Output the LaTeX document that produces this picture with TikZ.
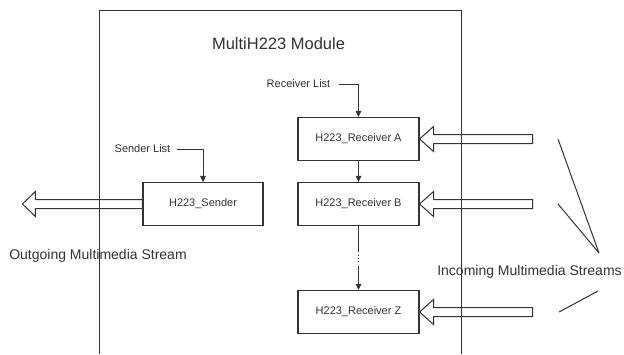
\documentclass[tikz,border=0pt]{standalone}
\usepackage{fontspec}
\setmainfont{Liberation Sans}
\usetikzlibrary{arrows.meta}
\definecolor{ink}{HTML}{333333}
\begin{document}
\begin{tikzpicture}[x=1pt,y=-1pt,
  every node/.style={text=ink},
  blk/.style={draw=ink,line width=1.1pt,minimum width=121pt,minimum height=43pt,inner sep=0pt,font=\fontsize{11}{13}\selectfont},
  small/.style={font=\fontsize{11}{13}\selectfont,inner sep=0pt},
  big/.style={font=\fontsize{14}{16}\selectfont,inner sep=0pt},
  conn/.style={draw=ink,line width=1pt},
  tipped/.style={conn,-{Triangle[length=6pt,width=5.5pt]}},
  hollow/.style={draw=ink,line width=1pt,fill=white}]
\useasboundingbox (0,0) rectangle (624,354);
\fill[white] (0,0) rectangle (624,354);

% blocks
\node[blk] (A) at (358.5,139) {H223\_Receiver A};
\node[blk] (B) at (358.5,204) {H223\_Receiver B};
\node[blk] (Z) at (358.5,312) {H223\_Receiver Z};
\node[blk,minimum width=120pt] (S) at (203,204) {H223\_Sender};

% labels
\node[font=\fontsize{16.5}{18}\selectfont,inner sep=0pt] (title) at (278.5,44) {MultiH223 Module};
\node[small] (rl) at (298.5,84) {Receiver List};
\node[small] (sl) at (142.5,149) {Sender List};
\node[big] (out) at (98,256) {Outgoing Multimedia Stream};
\node[big] (inc) at (529.5,272) {Incoming Multimedia Streams};

% list connectors
\coordinate (rls) at (339,84);
\coordinate (sls) at (177,149);
\draw[tipped] (rls) -| (A.north);
\draw[tipped] (sls) -| (S.north);
\draw[tipped] (A.south) -- (B.south |- B.north);

% B to Z with ellipsis
\coordinate (bz1) at (358.5,252);
\coordinate (bz2) at (358.5,254.5);
\coordinate (bz3) at (358.5,263.5);
\coordinate (bz4) at (358.5,266);
\draw[conn] (B.south) -- (bz1);
\draw[draw=ink,line width=1pt,dotted] (bz2) -- (bz3);
\draw[tipped] (bz4) -- (Z.north);

% hollow arrows into receivers
\foreach \n in {A,B,Z}{
  \draw[hollow] (\n.east) -- ++(14,-12.5) -- ++(0,8) -- ++(99,0) -- ++(0,9) -- ++(-99,0) -- ++(0,8) -- cycle;
}
% hollow arrow out of sender
\draw[hollow] (S.west) ++(0,-4.5) -- ++(-107,0) -- ++(0,-8) -- ++(-13,12.5) -- ++(13,12.5) -- ++(0,-8) -- ++(107,0) -- cycle;

% slanted lines
\coordinate (l1a) at (558,139);
\coordinate (l2a) at (558,204);
\coordinate (lm) at (599,253);
\coordinate (l3a) at (559,312);
\coordinate (l3b) at (598,291);
\draw[conn] (l1a) -- (lm);
\draw[conn] (l2a) -- (lm);
\draw[conn] (l3a) -- (l3b);

% module box (open at bottom), drawn on top
\coordinate (mbl) at (99,354);
\coordinate (mtl) at (99,10);
\coordinate (mtr) at (461,10);
\coordinate (mbr) at (461,354);
\draw[draw=ink,line width=1pt] (mbl) -- (mtl) -- (mtr) -- (mbr);
\end{tikzpicture}
\end{document}
